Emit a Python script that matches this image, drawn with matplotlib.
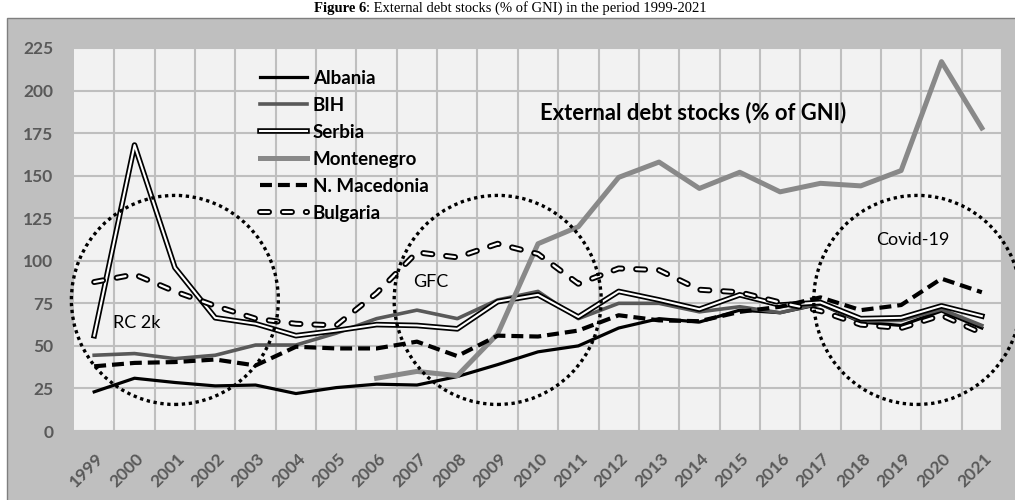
import numpy as np
import matplotlib
matplotlib.use('Agg')
import matplotlib.pyplot as plt
from matplotlib.patches import Ellipse, Rectangle
from matplotlib.transforms import ScaledTranslation

years = [str(y) for y in range(1999, 2022)]
albania = [23, 31, 28.5, 26.5, 27, 22, 25.5, 27.5, 27, 32, 39, 46.5, 50, 60.5, 66, 64, 71, 69.5, 74.5, 64, 62, 70.5, 60.5]
bih = [44.5, 45.5, 42.5, 44.5, 50.5, 50.5, 57.5, 66, 71, 66, 77, 82, 66, 75, 75, 70, 73, 69.5, 75, 64.5, 65, 71.5, 62]
serbia = [56, 168, 96, 66.5, 63, 56, 59, 62.5, 62, 60, 76, 80, 67, 82, 77, 71.5, 80, 74, 75.5, 66, 66.5, 73.5, 67.5]
montenegro = [np.nan] * 7 + [31, 35, 32.5, 57, 110, 120, 149, 158, 142.5, 152, 140.5, 145.5, 144, 153, 217, 178]
nmacedonia = [38, 40, 40.5, 42, 38.5, 49.5, 48.5, 48.5, 52.5, 44, 56, 55.5, 59, 68, 65, 64.5, 70, 73, 78.5, 71, 74, 89.5, 81.5]
bulgaria = [87.5, 92, 82, 73.5, 66, 63, 62, 81, 105, 102, 110, 104, 86.5, 95.5, 94.5, 83, 81.5, 75.5, 70.5, 62.5, 60.5, 68, 57.5]

plt.rcParams['font.family'] = ['Lato', 'DejaVu Sans']
plt.rcParams['lines.scale_dashes'] = False

W, H = 1015, 500
fig = plt.figure(figsize=(W / 100, H / 100), dpi=100)
fig.patch.set_facecolor('white')
fig.add_artist(Rectangle((7 / W, -0.01), 1.0, (H - 18) / H + 0.01, transform=fig.transFigure,
                         facecolor='#bfbfbf', edgecolor='#7f7f7f', lw=1, zorder=0))

# title (partly cut off at the top)
title_bold = 'Figure 6'
title_rest = ': External debt stocks (% of GNI) in the period 1999-2021'
t1 = fig.text(0, 1 - 12 / H, title_bold, family='Liberation Serif', weight='bold',
              fontsize=10.5, va='baseline', ha='left')
t2 = fig.text(0, 1 - 12 / H, title_rest, family='Liberation Serif',
              fontsize=10.5, va='baseline', ha='left')
fig.canvas.draw()
w1 = t1.get_window_extent().width
w2 = t2.get_window_extent().width
x0 = 510 - (w1 + w2) / 2
t1.set_x(x0 / W)
t2.set_x((x0 + w1) / W)

ax = fig.add_axes([74 / W, 69 / H, 928 / W, 383 / H])
ax.set_facecolor('#f2f2f2')
for s in ax.spines.values():
    s.set_visible(False)
x = np.arange(len(years))
ax.set_xlim(-0.5, len(years) - 0.5)
ax.set_ylim(0, 225)
ax.set_yticks(range(0, 226, 25))
ax.set_xticks(x)
ax.set_xticklabels(years, rotation=45, ha='right', va='center', rotation_mode='anchor')
ax.set_xticks(np.arange(0.5, len(years), 1), minor=True)
ax.grid(which='minor', axis='x', color='#bfbfbf', lw=1.5, zorder=0)
ax.grid(which='major', axis='y', color='#bfbfbf', lw=1.5, zorder=0)
ax.set_axisbelow(True)
ax.tick_params(axis='both', which='both', length=0, labelsize=12.5, labelcolor='#595959')
ax.tick_params(axis='y', pad=15)
ax.tick_params(axis='x', pad=18)
for lab in ax.get_yticklabels() + ax.get_xticklabels():
    lab.set_fontweight('bold')
off = ScaledTranslation(7 / 100, 0, fig.dpi_scale_trans)
for lab in ax.get_xticklabels():
    lab.set_transform(lab.get_transform() + off)

# series
l_alb, = ax.plot(x, albania, color='black', lw=2.3, zorder=3)
l_bih, = ax.plot(x, bih, color='#595959', lw=2.6, zorder=3)
l_ser_b, = ax.plot(x, serbia, color='black', lw=4.0, zorder=3)
l_ser_w, = ax.plot(x, serbia, color='white', lw=1.5, zorder=3)
l_mon, = ax.plot(x, montenegro, color='#898989', lw=3.6, zorder=3)
l_mac, = ax.plot(x, nmacedonia, color='black', lw=3.0, dashes=(8.6, 4.3), zorder=3)
l_bul_b, = ax.plot(x, bulgaria, color='black', lw=4.3, dashes=(6.5, 10), dash_capstyle='round', zorder=3)
l_bul_w, = ax.plot(x, bulgaria, color='white', lw=1.6, dashes=(6.5, 10), dash_capstyle='round', zorder=3)

# ellipses
for cx in (2.0, 10.0, 20.4):
    e = Ellipse((cx, 77), 5.13, 122.8, fill=False, edgecolor='black', lw=2.4,
                linestyle=(0, (2.4, 2.6)), clip_on=False, zorder=4)
    ax.add_patch(e)

ax.text(0.47, 63.5, 'RC 2k', fontsize=13, ha='left', va='center', zorder=5)
ax.text(8.35, 87.7, 'GFC', fontsize=13, ha='center', va='center', zorder=5)
ax.text(20.3, 112, 'Covid-19', fontsize=13, ha='center', va='center', zorder=5)
ax.text(14.85, 187, 'External debt stocks (% of GNI)', fontsize=15.8, weight='bold',
        ha='center', va='center', zorder=5)

handles = [l_alb, l_bih, (l_ser_b, l_ser_w), l_mon, l_mac, (l_bul_b, l_bul_w)]
labels = ['Albania', 'BIH', 'Serbia', 'Montenegro', 'N. Macedonia', 'Bulgaria']
leg = ax.legend(handles, labels, loc='upper left', bbox_to_anchor=(260 / W, 1 - 70 / H),
                bbox_transform=fig.transFigure, frameon=False, borderpad=0, borderaxespad=0,
                handlelength=2.5, handletextpad=0.32, labelspacing=0.53,
                prop={'weight': 'bold', 'size': 13.5})
leg.set_zorder(6)

fig.savefig('out.png', dpi=100)
